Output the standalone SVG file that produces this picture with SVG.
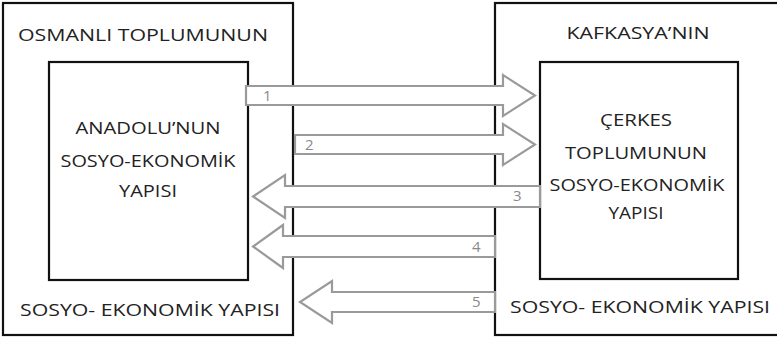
<svg xmlns="http://www.w3.org/2000/svg" width="777" height="338" viewBox="0 0 777 338">
<style>
.box{fill:#fff;stroke:#111;stroke-width:2.2}
.arr{fill:#fff;stroke:#9a9a9a;stroke-width:2.2;stroke-linejoin:miter}
.t{font-family:"Open Sans","Liberation Sans",sans-serif;font-size:15.5px;fill:#222;text-anchor:middle}
.n{font-family:"Open Sans","Liberation Sans",sans-serif;font-size:15px;fill:#8a8a8a}
</style>
<rect width="777" height="338" fill="#fff"/>
<g id="osmanli">
<rect class="box" x="3" y="3" width="290" height="332"/>
<text class="t" x="143" y="41" textLength="250" lengthAdjust="spacingAndGlyphs">OSMANLI TOPLUMUNUN</text>
<text class="t" x="150" y="316" textLength="260" lengthAdjust="spacingAndGlyphs">SOSYO- EKONOMİK YAPISI</text>
</g>
<g id="anadolu">
<rect class="box" x="49" y="62" width="199" height="218"/>
<text class="t" x="148" y="134" textLength="145" lengthAdjust="spacingAndGlyphs">ANADOLU’NUN</text>
<text class="t" x="148" y="167" textLength="175" lengthAdjust="spacingAndGlyphs">SOSYO-EKONOMİK</text>
<text class="t" x="148" y="197" textLength="58" lengthAdjust="spacingAndGlyphs">YAPISI</text>
</g>
<g id="kafkasya">
<rect class="box" x="495" y="3" width="285" height="332"/>
<text class="t" x="638" y="39" textLength="143" lengthAdjust="spacingAndGlyphs">KAFKASYA’NIN</text>
<text class="t" x="640" y="313" textLength="260" lengthAdjust="spacingAndGlyphs">SOSYO- EKONOMİK YAPISI</text>
</g>
<g id="cerkes">
<rect class="box" x="540" y="62" width="198" height="217"/>
<text class="t" x="636" y="126" textLength="72" lengthAdjust="spacingAndGlyphs">ÇERKES</text>
<text class="t" x="636" y="159" textLength="142" lengthAdjust="spacingAndGlyphs">TOPLUMUNUN</text>
<text class="t" x="637" y="191" textLength="175" lengthAdjust="spacingAndGlyphs">SOSYO-EKONOMİK</text>
<text class="t" x="636" y="219" textLength="55" lengthAdjust="spacingAndGlyphs">YAPISI</text>
</g>
<g id="connectors">
<polygon class="arr" points="246,86 503,86 503,75 535,95.5 503,116 503,105 246,105"/>
<polygon class="arr" points="295,135 503,135 503,124 535,144.5 503,165 503,154 295,154"/>
<polygon class="arr" points="540,186 285,186 285,175 253,196.5 285,218 285,207 540,207"/>
<polygon class="arr" points="495,236 283,236 283,225 253,246.5 283,268 283,257 495,257"/>
<polygon class="arr" points="495,292 332,292 332,281 300,302 332,323 332,312 495,312"/>
<text class="n" x="263" y="101">1</text>
<text class="n" x="305" y="150">2</text>
<text class="n" x="513" y="201">3</text>
<text class="n" x="472" y="252">4</text>
<text class="n" x="472" y="307">5</text>
</g>
</svg>
